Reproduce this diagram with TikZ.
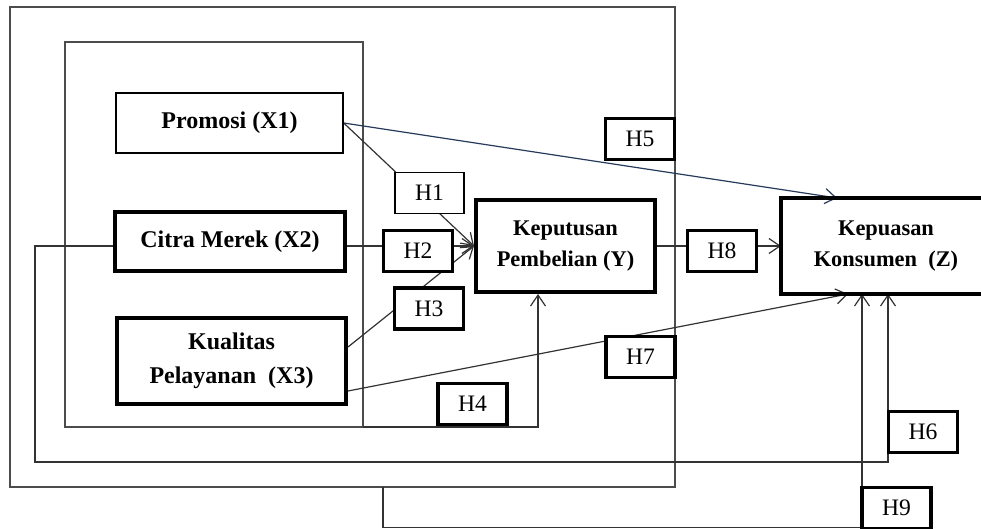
\documentclass[tikz,border=0pt]{standalone}
\usepackage{fontspec}
\setmainfont{Liberation Serif}
\usetikzlibrary{arrows.meta,backgrounds}
\definecolor{navy}{RGB}{38,58,92}

\begin{document}
\begin{tikzpicture}[
    x=0.5pt, y=-0.5pt,
    >={Straight Barb[length=5.5pt,width=7.5pt]},
    var/.style   = {draw, fill=white, line width=2pt, inner sep=0pt, align=center,
                    font=\bfseries\fontsize{12}{17}\selectfont},
    vartwo/.style = {font=\bfseries\fontsize{11.2}{15.2}\selectfont},
    hyp/.style   = {draw, fill=white, line width=1.8pt, inner sep=0pt,
                    minimum width=34.5pt, minimum height=20.5pt,
                    font=\fontsize{11.8}{13}\selectfont},
    thin/.style  = {line width=0.7pt},
    link/.style  = {draw=black!80, line width=0.6pt},
    frame/.style = {draw=black!70, line width=0.7pt},
  ]

	\useasboundingbox (0,0) rectangle (981,529);

	% Variabel
	\node[var, thin, minimum width=113.5pt, minimum height=30pt] (X1) at (229.5,123) {Promosi (X1)};
	\node[var, minimum width=115pt, minimum height=29.5pt] (X2) at (230,241.5) {Citra Merek (X2)};
	\node[var, minimum width=114.5pt, minimum height=43pt] (X3) at (231.5,361) {Kualitas\\Pelayanan~~(X3)};
	\node[var, vartwo, minimum width=89.5pt, minimum height=46pt] (Y) at (565.5,246) {Keputusan\\Pembelian (Y)};
	% Z laeuft rechts aus dem Bild
	\node[var, vartwo, draw=none, fill=none, minimum width=103pt, minimum height=46pt] (Z) at (886,246) {Kepuasan\\Konsumen~~(Z)};
	\draw[line width=2pt] (Z.north -| 981,0) -- (Z.north west) -- (Z.south west) -- (Z.south -| 981,0);

	% Hipotesis
	\node[hyp, thin] (H1) at (429.5,193) {H1};
	\node[hyp] (H2) at (418,251) {H2};
	\node[hyp] (H3) at (429,308.5) {H3};
	\node[hyp] (H4) at (472.5,404) {H4};
	\node[hyp] (H5) at (640,139) {H5};
	\node[hyp] (H6) at (923,432) {H6};
	\node[hyp] (H7) at (640.5,357) {H7};
	\node[hyp] (H8) at (722,251) {H8};
	\node[hyp] (H9) at (896.5,508) {H9};

	% Eckpunkte der Linien
	\coordinate (inSE) at (363,427);
	\coordinate (lp6) at (35,462);
	\coordinate (lp9) at (383,487);
	\coordinate (lp9b) at (383,527.5);

	\begin{scope}[on background layer]
		% Rahmen
		\draw[frame] (10,7) rectangle (675,487);
		\draw[frame] (65,42) rectangle (inSE);

		% H1 - H3
		\draw[link,->] (X1.east) -- (Y.west);
		\draw[link,->] (X2.east |- Y.west) -- (Y.west);
		\draw[link,->] ([yshift=7pt]X3.east) -- (Y.west);
		% H4
		\draw[link,->] (inSE) -| ([xshift=-13.75pt]Y.south);
		% H5
		\draw[link,draw=navy,->] (X1.east) -- ([xshift=-24.5pt]Z.north);
		% H6
		\draw[link,->] (X2.west |- Y.west) -| (lp6) -| ([xshift=1pt]Z.south);
		% H7
		\draw[link,->] ([yshift=-15pt]X3.east) -- ([xshift=-19pt]Z.south);
		% H8
		\draw[link,->] (Y.east) -- (Z.west);
		% H9
		\draw[link,->] (lp9) -- (lp9b) -| ([xshift=-12pt]Z.south);
	\end{scope}

\end{tikzpicture}
\end{document}
